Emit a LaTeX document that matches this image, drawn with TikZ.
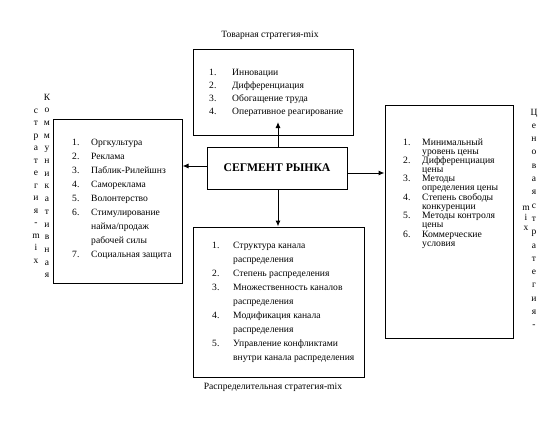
\documentclass[tikz,border=0pt]{standalone}
\usepackage{fontspec}
\setmainfont{Liberation Serif}
\usetikzlibrary{arrows.meta}
\begin{document}
\begin{tikzpicture}[x=1pt,y=-1pt,
  box/.style={draw, line width=1pt, inner sep=0pt},
  lst/.style={inner sep=0pt, anchor=base west},
  vl/.style={inner sep=0pt, anchor=base, font=\fontsize{9.5}{10}\selectfont},
  ttl/.style={inner sep=0pt, anchor=base, font=\fontsize{9.6}{11}\selectfont},
  arr/.style={line width=1pt, -{Latex[length=6pt,width=5pt]}}]
\useasboundingbox (0,0) rectangle (554,428);
% boxes
\node[box, minimum width=160pt, minimum height=85pt] (topbox) at (273,92.5) {};
\node[box, minimum width=129pt, minimum height=164pt] (leftbox) at (117.5,201) {};
\node[box, minimum width=128pt, minimum height=233pt] (rightbox) at (449,221.5) {};
\node[box, minimum width=171pt, minimum height=150pt] (botbox) at (278.5,302) {};
\node[box, minimum width=140pt, minimum height=42pt, font=\bfseries\fontsize{11.7}{13}\selectfont] (seg) at (277,168) {СЕГМЕНТ РЫНКА};
% titles
\node[ttl] (toptitle) at (270,38) {Товарная стратегия-mix};
\node[ttl] (bottitle) at (273,389) {Распределительная стратегия-mix};
% lists
\node[lst, font=\fontsize{9.6}{13.3}\selectfont] (toplist) at (209,75) {\begin{tabular}[t]{@{}p{23pt}@{}l@{}}
1. & Инновации\\
2. & Дифференциация\\
3. & Обогащение труда\\
4. & Оперативное реагирование
\end{tabular}};
\node[lst, font=\fontsize{9.6}{14}\selectfont] (leftlist) at (72,145) {\begin{tabular}[t]{@{}p{19pt}@{}l@{}}
1. & Оргкультура\\
2. & Реклама\\
3. & Паблик-Рилейшнз\\
4. & Самореклама\\
5. & Волонтерство\\
6. & Стимулирование\\
   & найма/продаж\\
   & рабочей силы\\
7. & Социальная защита
\end{tabular}};
\node[lst, font=\fontsize{9.7}{9.1}\selectfont] (rightlist) at (403,145) {\begin{tabular}[t]{@{}p{19pt}@{}l@{}}
1. & Минимальный\\
   & уровень цены\\
2. & Дифференциация\\
   & цены\\
3. & Методы\\
   & определения цены\\
4. & Степень свободы\\
   & конкуренции\\
5. & Методы контроля\\
   & цены\\
6. & Коммерческие\\
   & условия
\end{tabular}};
\node[lst, font=\fontsize{9.6}{14}\selectfont] (botlist) at (212,248) {\begin{tabular}[t]{@{}p{21pt}@{}l@{}}
1. & Структура канала\\
   & распределения\\
2. & Степень распределения\\
3. & Множественность каналов\\
   & распределения\\
4. & Модификация канала\\
   & распределения\\
5. & Управление конфликтами\\
   & внутри канала распределения
\end{tabular}};
% vertical texts
\foreach \c [count=\i] in {К,о,м,м,у,н,и,к,а,т,и,в,н,а,я}
  \node[vl] (ka\i) at (47,{97+(\i-1)*12.7+3}) {\c};
\foreach \c [count=\i] in {с,т,р,а,т,е,г,и,я,-,m,i,x}
  \node[vl] (kb\i) at (36,{110+(\i-1)*12.5+3}) {\c};
\foreach \c [count=\i] in {Ц,е,н,о,в,а,я,с,т,р,а,т,е,г,и,я,-}
  \node[vl] (ca\i) at (534,{112+(\i-1)*13.3+3}) {\c};
\foreach \c [count=\i] in {m,i,x}
  \node[vl] (cb\i) at (526,{207+(\i-1)*10+3}) {\c};
% connectors
\coordinate (toptip) at (278,122);
\draw[arr] (seg.north -| toptip) -- (toptip);
\draw[arr] (seg.south -| toptip) -- (botbox.north -| toptip);
\coordinate (lefty) at (0,166);
\draw[arr] (seg.west |- lefty) -- (leftbox.east |- lefty);
\coordinate (righty) at (0,173);
\draw[arr] (seg.east |- righty) -- (rightbox.west |- righty);
\end{tikzpicture}
\end{document}
